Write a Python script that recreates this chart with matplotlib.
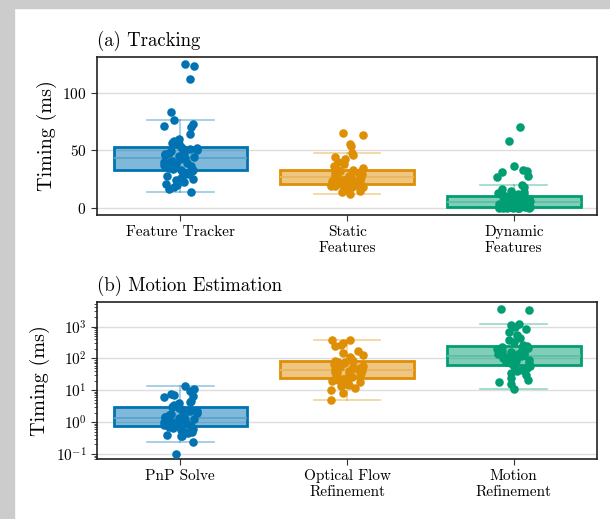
import matplotlib
matplotlib.use("Agg")

import matplotlib.pyplot as plt
import numpy as np
from matplotlib import cbook
from matplotlib.colors import to_rgba
from matplotlib.patches import Rectangle

plt.rcParams.update({
    "font.family": "serif",
    "font.serif": ["cmr10"],
    "mathtext.fontset": "cm",
    "axes.formatter.use_mathtext": True,
    "axes.unicode_minus": False,
})

# ---------------------------------------------------------------------------
# Per-frame timings (ms)
# ---------------------------------------------------------------------------
tracking_labels = ["Feature Tracker", "Static\nFeatures", "Dynamic\nFeatures"]
feature_tracker = [125, 123, 112, 83, 76, 73, 71, 70, 64, 60, 58, 57, 56, 55,
                   52.5, 52, 52, 51, 50, 50, 49, 48, 48, 47, 46, 45, 45, 44,
                   43, 43, 42, 41, 40, 40, 39, 38, 38, 37, 36, 35, 34, 33, 33,
                   32, 30, 29, 28, 27, 26, 25, 24, 22, 21, 20, 18, 16, 14]
static_features = [65, 63, 55, 54, 48, 46, 44, 42, 40, 38, 36, 35, 33, 33, 32,
                   31, 31, 30, 30, 29, 29, 28, 28, 27, 27, 26, 26, 25, 25, 25,
                   24, 24, 23, 23, 22, 22, 21, 21, 20, 20, 20, 19, 19, 18, 18,
                   17, 16, 15, 14, 12]
dynamic_features = [70, 58, 36, 33, 32, 31, 28, 27, 20, 18, 16, 15, 14, 13, 12,
                    11, 11, 10.5, 10, 10, 9, 9, 8, 8, 8, 7, 7, 7, 6, 6, 6, 5.5,
                    5.5, 5, 5, 4.5, 4, 4, 3.5, 3, 3, 2.5, 2.5, 2, 2, 1.5, 1.5,
                    1.2, 1, 0.8, 0.7, 0.6, 0.6, 0.5, 0.5, 0.4, 0.4, 0.3, 0.3,
                    0.3, 0.2, 0.2, 0.2, 0.1, 0.1, 0.1, 0.05, 0]

motion_labels = ["PnP Solve", "Optical Flow\nRefinement", "Motion\nRefinement"]
pnp_solve = [13.6, 11, 9.5, 7.5, 7, 6.5, 6, 4.5, 4.2, 4, 3.5, 3.2, 3, 2.8, 2.6,
             2.5, 2.3, 2.2, 2, 1.9, 1.8, 1.7, 1.6, 1.5, 1.5, 1.4, 1.35, 1.3,
             1.2, 1.2, 1.1, 1, 1, 0.95, 0.9, 0.85, 0.8, 0.8, 0.75, 0.7, 0.65,
             0.6, 0.55, 0.5, 0.48, 0.45, 0.4, 0.38, 0.37, 0.24, 0.1]
optical_flow = [393, 370, 300, 260, 240, 170, 150, 130, 110, 95, 88, 85, 82, 80,
                75, 70, 65, 60, 58, 55, 52, 50, 48, 46, 44, 43, 42, 40, 38, 36,
                34, 32, 30, 28, 26, 24, 23, 22, 21, 20, 18, 16, 15, 14, 12, 10,
                8, 5]
motion_refine = [3500, 3400, 1200, 1100, 950, 850, 700, 550, 450, 380, 320, 260,
                 240, 230, 220, 200, 190, 180, 170, 160, 150, 140, 135, 130,
                 125, 120, 115, 110, 105, 100, 95, 90, 85, 80, 75, 70, 65, 60,
                 57, 55, 50, 45, 40, 35, 30, 25, 21, 18, 16, 11]

PALETTE = ["#0173b2", "#de8f05", "#029e73"]
TEXT_KW = dict(fontsize=11)


def _lighten(color, amount):
    r, g, b, _ = to_rgba(color)
    return (r + (1 - r) * amount, g + (1 - g) * amount, b + (1 - b) * amount)


def draw_panel(ax, groups, labels, log=False):
    """Box plot per group (stats in log space for log axes) plus jittered points."""
    rng = np.random.default_rng(7)
    positions = np.arange(len(groups))
    for pos, vals, color in zip(positions, groups, PALETTE):
        vals = np.asarray(vals, dtype=float)
        if log:
            st = cbook.boxplot_stats(np.log10(vals))[0]
            for key in ("med", "q1", "q3", "whislo", "whishi", "mean"):
                st[key] = 10 ** st[key]
        else:
            st = cbook.boxplot_stats(vals)[0]
        st["fliers"] = []
        ax.bxp([st], positions=[pos], widths=0.8, capwidths=0.4,
               patch_artist=True, showfliers=False, manage_ticks=False,
               boxprops=dict(facecolor=to_rgba(color, 0.5), edgecolor=color,
                             linewidth=2),
               medianprops=dict(color=_lighten(color, 0.35), linewidth=1.3),
               whiskerprops=dict(color=to_rgba(color, 0.4), linewidth=1.2),
               capprops=dict(color=to_rgba(color, 0.4), linewidth=1.2),
               zorder=2)
        jitter = rng.uniform(-0.1, 0.1, len(vals))
        ax.scatter(pos + jitter, vals, s=38, color=color, linewidths=0,
                   zorder=3)

    ax.set_xticks(positions)
    ax.set_xticklabels(labels, **TEXT_KW)
    ax.set_xlim(-0.5, len(groups) - 0.5)
    ax.set_ylabel("Timing (ms)", fontsize=14.5)
    ax.grid(axis="y", color="#dddddd", linewidth=1)
    ax.set_axisbelow(True)
    ax.tick_params(axis="both", labelsize=11, color="#333333", length=4)
    ax.tick_params(axis="y", which="minor", length=2, color="#333333")
    for spine in ax.spines.values():
        spine.set_color("#222222")
        spine.set_linewidth(1.2)


fig = plt.figure(figsize=(6.10, 5.19), dpi=100)
fig.patches.append(Rectangle((0, 0), 14 / 610, 1, transform=fig.transFigure,
                             color="#cccccc", zorder=0))
fig.patches.append(Rectangle((0, 1 - 8 / 519), 1, 8 / 519,
                             transform=fig.transFigure, color="#cccccc",
                             zorder=0))

ax_track = fig.add_axes([0.159, 0.5857, 0.820, 0.3044])
draw_panel(ax_track, [feature_tracker, static_features, dynamic_features],
           tracking_labels)
ax_track.set_ylim(-6.3, 131)
ax_track.set_yticks([0, 50, 100])
ax_track.set_title("(a) Tracking", loc="left", fontsize=13.5, pad=8)

ax_motion = fig.add_axes([0.159, 0.1156, 0.820, 0.3025])
ax_motion.set_yscale("log")
draw_panel(ax_motion, [pnp_solve, optical_flow, motion_refine], motion_labels,
           log=True)
ax_motion.set_ylim(0.07, 5900)
ax_motion.set_yticks([0.1, 1, 10, 100, 1000])
ax_motion.set_title("(b) Motion Estimation", loc="left", fontsize=13.5, pad=8)

fig.savefig("out.png", dpi=100)
